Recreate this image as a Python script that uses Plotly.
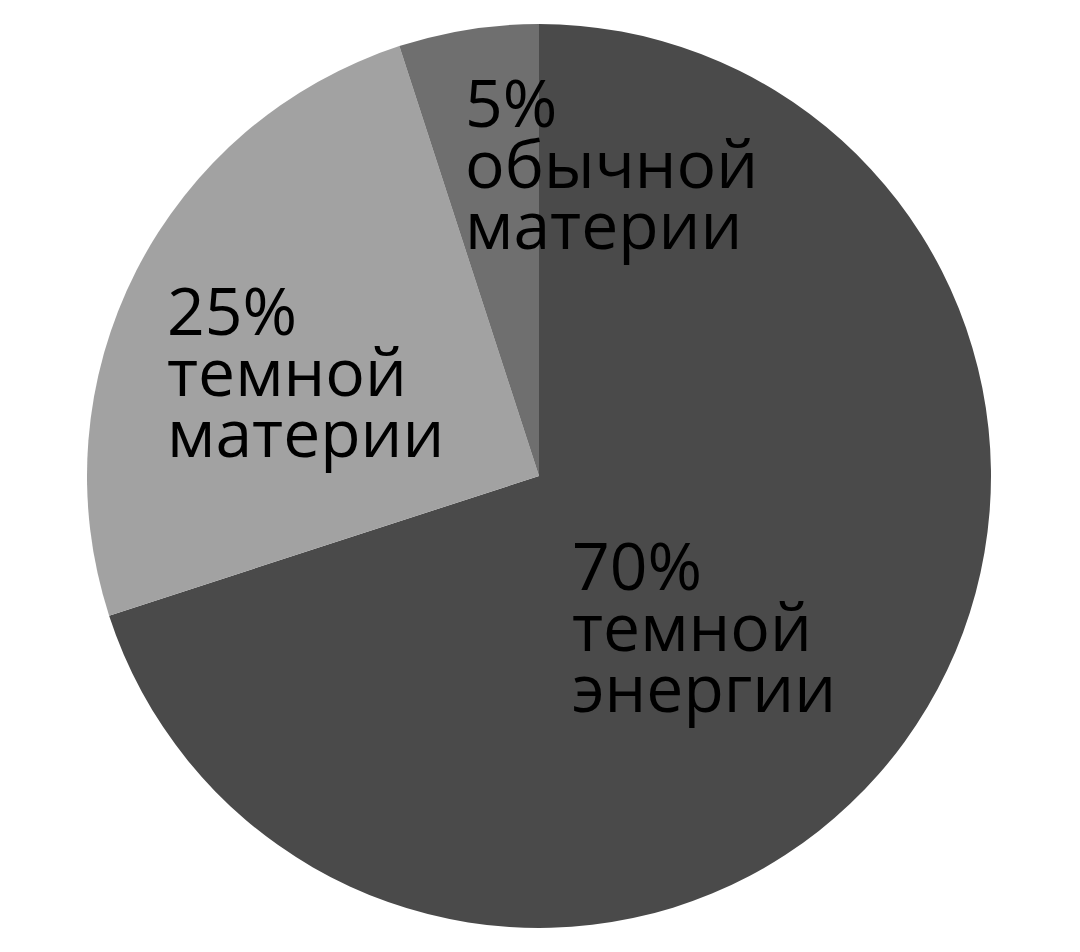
import plotly.graph_objects as go

# Data
labels = ["темной энергии", "темной материи", "обычной материи"]
values = [70, 25, 5]
colors = ["#4a4a4a", "#a2a2a2", "#6f6f6f"]
label_lines = [
    ["70%", "темной", "энергии"],
    ["25%", "темной", "материи"],
    ["5%", "обычной", "материи"],
]

# page body has an 8px margin; work in window pixels and convert
OFF = 8
W, H = 1080 - 2 * OFF, 952 - 2 * OFF
cx, cy, r = 539 - OFF, 476 - OFF, 452


def px_x(x):
    return (x - OFF) / W


def px_y(y):
    return 1 - (y - OFF) / H


fig = go.Figure(go.Pie(
    labels=labels,
    values=values,
    sort=False,
    direction="clockwise",
    rotation=0,
    textinfo="none",
    hoverinfo="label+percent",
    marker=dict(colors=colors, line=dict(width=0)),
    domain=dict(x=[(cx - r) / W, (cx + r) / W], y=[1 - (cy + r) / H, 1 - (cy - r) / H]),
    showlegend=False,
))

# label block placement (left x, first baseline) in window pixels
blocks = [(570, 590), (165, 335), (463, 127)]
line_gap = 61
fsize = 66
annotations = []
for (lx, by), lines in zip(blocks, label_lines):
    for i, t in enumerate(lines):
        base = by + i * line_gap
        annotations.append(dict(
            text=t, x=px_x(lx), y=px_y(base - 26), xref="paper", yref="paper",
            xanchor="left", yanchor="middle", showarrow=False, align="left",
            font=dict(family="Open Sans", size=fsize, color="#000000", weight=500),
        ))

fig.update_layout(
    width=W, height=H,
    margin=dict(l=0, r=0, t=0, b=0),
    paper_bgcolor="white",
    plot_bgcolor="white",
    annotations=annotations,
)

fig.write_html("out.html")
